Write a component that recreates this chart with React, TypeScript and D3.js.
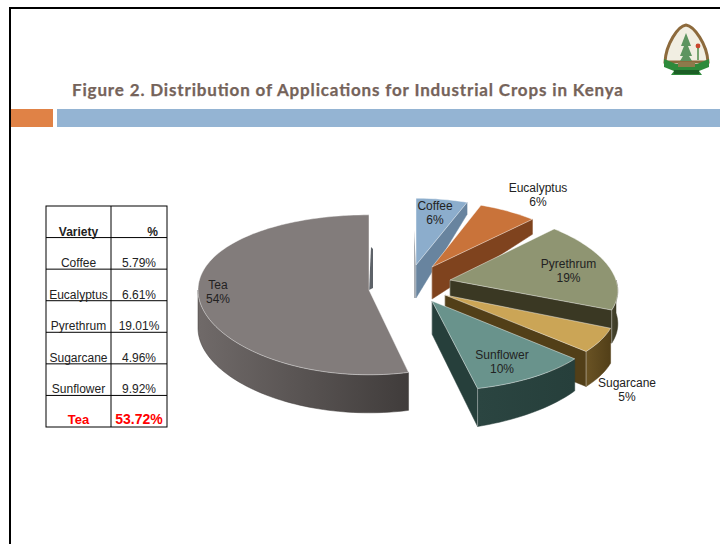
import React from "react";
import * as d3 from "d3";

// Share of applications per crop, in the table's order
const varieties = ["Coffee", "Eucalyptus", "Pyrethrum", "Sugarcane", "Sunflower", "Tea"];
const shares = [5.79, 6.61, 19.01, 4.96, 9.92, 53.72];
const shareLabels = ["5.79%", "6.61%", "19.01%", "4.96%", "9.92%", "53.72%"];
const pieLabels = ["6%", "6%", "19%", "5%", "10%", "54%"];

// Slice colours: top face, wall light end, wall dark end
const topColors = ["#8cadcc", "#c9733a", "#8f9572", "#cba556", "#69938c", "#827c7b"];
const wallLight = ["#7d9ab8", "#9a5528", "#47452e", "#6a5324", "#2b4541", "#706a69"];
const wallDark = ["#68849f", "#7f431e", "#3a3823", "#523f18", "#263f3b", "#403c3b"];

// Exploded position of each slice: apex, radii, wall depth at the apex, at the
// start of the rim and at the rim end of its cut face, perspective
const sliceLayout = [
  { cx: 416, cy: 265, rx: 167, ry: 71, depth: 33, rimDepth: 12, farDepth: 12, k: 0.15, m: 0.06 },
  { cx: 432, cy: 267, rx: 160, ry: 70, depth: 32, rimDepth: 15, farDepth: 15, k: 0.15, m: 0.06 },
  { cx: 450, cy: 280, rx: 166, ry: 75, depth: 33, rimDepth: 33, farDepth: 33, k: 0.15, m: 0.06 },
  { cx: 445, cy: 295, rx: 170, ry: 83, depth: 35, rimDepth: 35, farDepth: 35, k: 0.15, m: 0.06 },
  { cx: 432, cy: 301, rx: 172, ry: 85, depth: 33, rimDepth: 32, farDepth: 38, k: 0.15, m: 0.06 },
  { cx: 369, cy: 290, rx: 171, ry: 80, depth: 38, rimDepth: 38, farDepth: 38, k: 0, m: 0.06 },
];

// Where each pie label sits: centre x and first baseline
const labelSpots = [
  [435, 210],
  [538, 192],
  [568.5, 268],
  [627, 387],
  [502, 359],
  [218, 289],
];

const TITLE = "Figure 2. Distribution of Applications for Industrial Crops in Kenya";
const ARIAL = "'Liberation Sans', Arial, sans-serif";

type Layout = (typeof sliceLayout)[number];

// Tilted-disc projection of a pie angle (clockwise from 12 o'clock)
const project = (l: Layout, a: number, lift = 0): [number, number] => [
  l.cx + l.rx * Math.sin(a) * (1 - l.k * Math.cos(a)),
  l.cy - l.ry * Math.cos(a) * (1 - l.m * Math.cos(a)) + lift,
];

const arcAngles = (a0: number, a1: number) => {
  const n = Math.max(2, Math.ceil((a1 - a0) / 0.03));
  return d3.range(n + 1).map((i) => a0 + ((a1 - a0) * i) / n);
};

const outline = d3.line<[number, number]>();

const rowScale = d3
  .scaleBand<string>()
  .domain(["header", ...varieties])
  .range([206, 427]);

const pieArcs = d3
  .pie<number>()
  .sort(null)
  .startAngle(0)
  .endAngle(2 * Math.PI)(shares);

function Slice({ i }: { i: number }) {
  const l = sliceLayout[i];
  const { startAngle: a0, endAngle: a1 } = pieArcs[i];
  const isTea = varieties[i] === "Tea";
  const apex: [number, number] = [l.cx, l.cy];
  const apexLow: [number, number] = [l.cx, l.cy + l.depth];
  const endTop = project(l, a1);
  const endLow = project(l, a1, l.farDepth);
  const rim = arcAngles(a0, a1).map((a) => project(l, a));
  const top = outline([apex, ...rim]) + "Z";

  const lo = Math.max(a0, Math.PI / 2);
  const hi = Math.min(a1, (3 * Math.PI) / 2);
  const front = hi > lo ? arcAngles(lo, hi) : [];
  const rimLift = d3.scaleLinear().domain([a0, a1]).range([l.rimDepth, l.farDepth]);
  const wall =
    front.length > 0
      ? outline([
          ...front.map((a) => project(l, a)),
          ...front.slice().reverse().map((a) => project(l, a, rimLift(a))),
        ]) + "Z"
      : null;

  return (
    <g>
      {varieties[i] === "Coffee" && (
        <path d={outline([[l.cx - 2, l.cy - 35], apex, apexLow, [l.cx - 2, l.cy + l.depth]])! + "Z"} fill="#a9adb2" />
      )}
      {isTea && (
        <path d={outline([[l.cx + 2, l.cy - 43], [l.cx + 4, l.cy - 41], [l.cx + 4, l.cy - 2], apex])! + "Z"} fill="#5d6268" />
      )}
      {!isTea && (
        <path
          d={outline([apex, endTop, endLow, apexLow])! + "Z"}
          fill={wallDark[i]}
          stroke={wallDark[i]}
          strokeWidth={0.5}
        />
      )}
      {wall && <path d={wall} fill={`url(#wall-${i})`} stroke={wallDark[i]} strokeWidth={0.5} />}
      {!isTea && a1 > Math.PI / 2 && (
        <line x1={endTop[0]} y1={endTop[1]} x2={endLow[0]} y2={endLow[1]} stroke="#ffffff" strokeOpacity={0.4} />
      )}
      {!isTea && (
        <line x1={apex[0]} y1={apex[1]} x2={apexLow[0]} y2={apexLow[1]} stroke="#ffffff" strokeOpacity={0.3} />
      )}
      <path d={top} fill={topColors[i]} stroke="#ffffff" strokeOpacity={0.45} strokeWidth={1} strokeLinejoin="round" />
    </g>
  );
}

function CropTable() {
  const h = rowScale.bandwidth();
  const left = 46;
  const mid = 111;
  const right = 167;
  const rows = rowScale.domain();
  return (
    <g fontFamily={ARIAL} fontSize={12} fill="#222222">
      <rect x={left} y={206} width={right - left} height={221} fill="none" stroke="#000" strokeWidth={1} />
      <line x1={mid} x2={mid} y1={206} y2={427} stroke="#000" />
      {rows.slice(1).map((r) => (
        <line key={r} x1={left} x2={right} y1={rowScale(r)!} y2={rowScale(r)!} stroke="#000" />
      ))}
      <text x={78.5} y={206 + h - 2} textAnchor="middle" fontWeight="bold">Variety</text>
      <text x={158} y={206 + h - 2} textAnchor="end" fontWeight="bold">%</text>
      {varieties.map((v, i) => {
        const y = rowScale(v)! + h - 2;
        const tea = v === "Tea";
        return (
          <g key={v}>
            <text
              x={78.5}
              y={y - (tea ? 1 : 0)}
              textAnchor="middle"
              style={tea ? { fontWeight: "bold", fontSize: 13, fill: "#ff0000" } : {}}
            >
              {v}
            </text>
            <text
              x={139}
              y={y - (tea ? 1 : 0)}
              textAnchor="middle"
              style={tea ? { fontWeight: "bold", fontSize: 14, fill: "#ff0000" } : {}}
            >
              {shareLabels[i]}
            </text>
          </g>
        );
      })}
    </g>
  );
}

function Crest() {
  return (
    <g filter="url(#crest-soft)">
      <path d="M665 62 C666 44 678 26 686 25 C694 26 707 44 708 62 Z" fill="#f1eee2" stroke="#8d6b3c" strokeWidth={3} />
      <path d="M686 33 L681 46 L684 46 L680 56 L683 56 L680 61 L692 61 L689 56 L692 56 L688 46 L691 46 Z" fill="#5d9460" />
      <circle cx={698} cy={46} r={2.4} fill="#c8442e" />
      <path d="M698 48 L698 60" stroke="#4f8a4a" strokeWidth={1.5} />
      <path d="M664 59 L676 64 L697 64 L709 59 L709 67 L699 71 L702 75 L671 75 L674 71 L664 67 Z" fill="#2f8a3a" />
      <rect x={678} y={62} width={17} height={5} fill="#8d7a4c" />
      <rect x={674} y={70} width={25} height={4} fill="#1d5e28" />
    </g>
  );
}

export default function App() {
  return (
    <svg
      width={720}
      height={544}
      viewBox="0 0 720 544"
      style={{ position: "fixed", left: 0, top: 0, display: "block", background: "#ffffff" }}
    >
      <defs>
        <filter id="crest-soft" x="-10%" y="-10%" width="120%" height="120%">
          <feGaussianBlur stdDeviation={0.5} />
        </filter>
        {varieties.map((v, i) => (
          <linearGradient key={v} id={`wall-${i}`} x1="0" x2="1" y1="0" y2="0">
            <stop offset="0" stopColor={wallLight[i]} />
            <stop offset="1" stopColor={wallDark[i]} />
          </linearGradient>
        ))}
      </defs>

      <path d="M720 8 H10 V544" fill="none" stroke="#000000" strokeWidth={2} />
      <rect x={11} y={109} width={42} height={18} fill="#e08246" />
      <rect x={57} y={109} width={663} height={18} fill="#94b4d3" />

      <text
        x={72}
        y={96}
        fontFamily="Lato, 'Open Sans', sans-serif"
        fontWeight="bold"
        fontSize={17}
        fill="#75635a"
        stroke="#75635a"
        strokeWidth={0.25}
        textLength={551}
        lengthAdjust="spacing"
      >
        {TITLE}
      </text>

      <Crest />
      <CropTable />

      {varieties.map((v, i) => (
        <Slice key={v} i={i} />
      ))}

      <g fontFamily={ARIAL} fontSize={12} fill="#222222" textAnchor="middle">
        {varieties.map((v, i) => (
          <text key={v} x={labelSpots[i][0]} y={labelSpots[i][1]}>
            <tspan x={labelSpots[i][0]}>{v}</tspan>
            <tspan x={labelSpots[i][0]} dy={14}>{pieLabels[i]}</tspan>
          </text>
        ))}
      </g>
    </svg>
  );
}
